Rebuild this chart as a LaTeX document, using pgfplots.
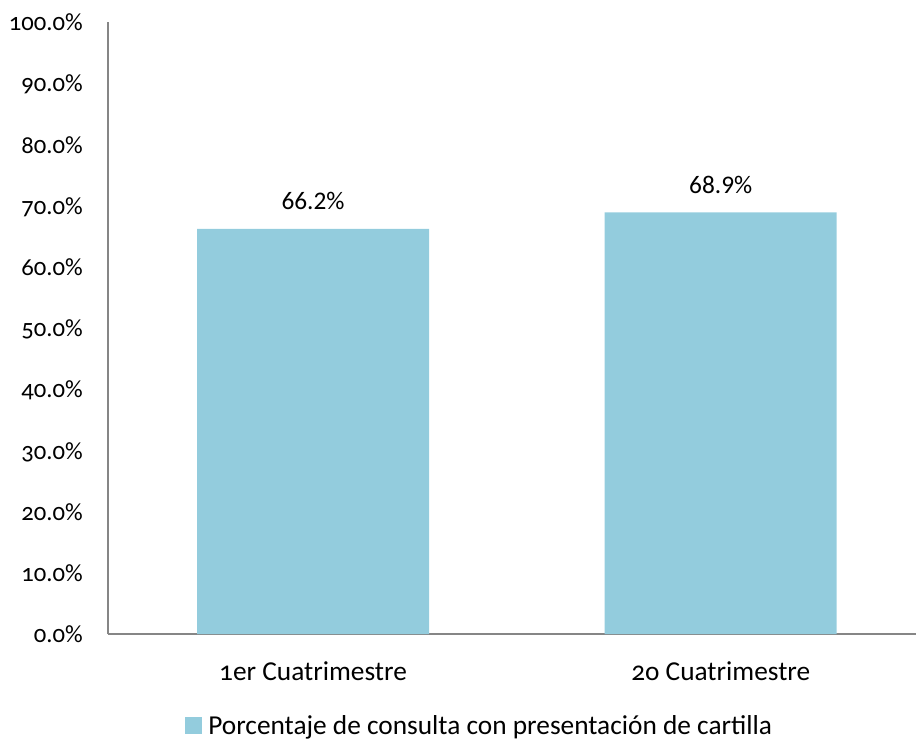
\documentclass[border=0pt]{standalone}
\usepackage{fontspec}
\setmainfont{Carlito}
\newfontfamily\oldfig{Carlito}[Numbers=OldStyle]
\usepackage{pgfplots}
\pgfplotsset{compat=1.18}
\definecolor{barblue}{HTML}{93CCDD}
\definecolor{axisgray}{HTML}{868686}
\begin{document}
\begin{tikzpicture}
\path[use as bounding box] (-81pt,-79.5pt) rectangle (606pt,475.5pt);
\begin{axis}[
  scale only axis,
  width=606pt, height=459pt,
  xmin=-0.503, xmax=1.479,
  ymin=0, ymax=100,
  axis x line*=bottom, axis y line*=left,
  axis line style={axisgray, line width=1.2pt},
  every outer x axis line/.append style={-}, every outer y axis line/.append style={-},
  major tick length=0pt,
  xtick=data,
  xticklabels={1er Cuatrimestre, 2o Cuatrimestre},
  ytick={0,10,...,100},
  yticklabels={0.0\%,10.0\%,20.0\%,30.0\%,40.0\%,50.0\%,60.0\%,70.0\%,80.0\%,90.0\%,100.0\%},
  yticklabel style={anchor=base east, inner sep=0pt, xshift=-18.75pt, yshift=-6.5pt,
    font=\oldfig\fontsize{18.5}{20}\selectfont},
  xticklabel style={anchor=base, inner sep=0pt, yshift=-35pt, font=\oldfig\fontsize{20.5}{22}\selectfont},
  tick label style={text=black},
  ybar, bar width=174pt,
  /pgf/number format/assume math mode=true,
  nodes near coords={\pgfmathprintnumber[fixed,fixed zerofill,precision=1,assume math mode=true]{\pgfplotspointmeta}\%},
  nodes near coords style={anchor=base, inner sep=0pt, yshift=14.5pt, font=\fontsize{19}{21}\selectfont, text=black},
  legend style={at={(0.46,-0.15)}, anchor=center, draw=none, fill=none,
    font=\fontsize{20.5}{22}\selectfont, inner sep=0pt, column sep=3pt},
  legend image code/.code={\fill[barblue] (0pt,-6.3pt) rectangle (12.75pt,6.45pt);},
]
\addplot[fill=barblue, draw=none] coordinates {(0,66.2) (1,68.9)};
\addlegendentry{Porcentaje de consulta con presentación de cartilla}
\end{axis}
\end{tikzpicture}
\end{document}
